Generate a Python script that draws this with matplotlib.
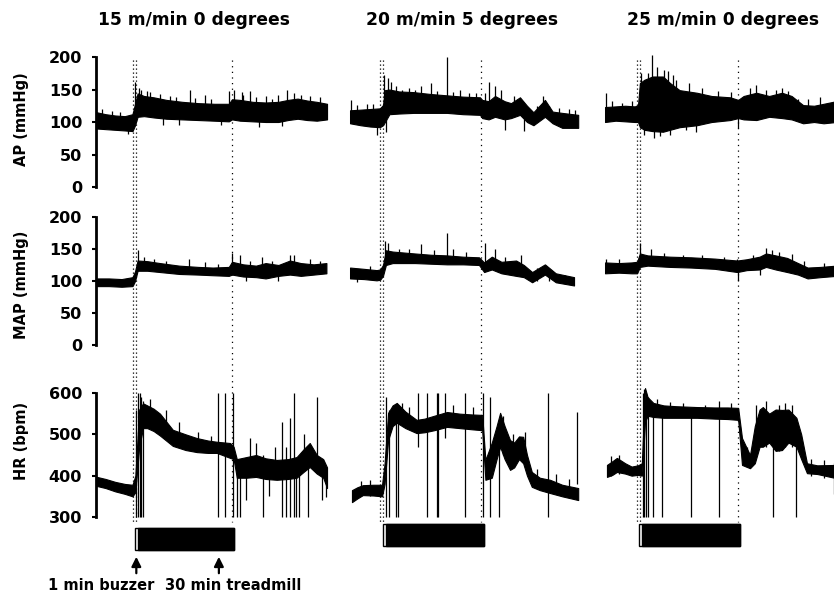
import matplotlib
matplotlib.use('Agg')
import matplotlib.pyplot as plt
from matplotlib.patches import Rectangle

# ---- data: time in min (0 = buzzer), envelope of each noisy trace + spikes ----
titles = ['15 m/min 0 degrees', '20 m/min 5 degrees', '25 m/min 0 degrees']
row_labels = ['AP (mmHg)', 'MAP (mmHg)', 'HR (bpm)']

# AP, 15 m/min
ap1_t = [-11.8, -9, -6, -3, -0.6, 0.2, 1, 3, 6, 10, 15, 20, 25, 29.5, 30.5, 33, 37, 41, 45, 48, 51, 54, 57, 60.2]
ap1_lo = [90, 89, 88, 87, 86, 95, 108, 109, 107, 105, 104, 103, 102, 101, 104, 102, 101, 100, 100, 103, 105, 103, 102, 104]
ap1_hi = [115, 112, 110, 109, 112, 128, 144, 140, 138, 134, 131, 129, 128, 128, 135, 134, 131, 130, 131, 134, 136, 133, 131, 128]
ap1_spk_t = [0.2, 2, 5, 17.4, 22, 29.6, 31, 33.5, 36, 41, 47.6, 50, 55, -2, 27,
             -10, -7, -4.5, 1.5, 4, 8, 11, 13, 19, 24, 34, 38, 43, 45, 52, 58, 9, 14, 39, 46]
ap1_spk_lo = [110, 120, 120, 115, 112, 112, 115, 115, 112, 110, 115, 115, 112, 82, 95,
              100, 98, 96, 120, 120, 118, 115, 115, 112, 112, 115, 112, 112, 112, 115, 112, 96, 95, 93, 94]
ap1_spk_hi = [162, 150, 146, 149, 142, 148, 150, 146, 147, 140, 150, 145, 140, 100, 110,
              120, 117, 116, 152, 147, 143, 140, 138, 137, 136, 142, 139, 136, 141, 142, 138, 110, 110, 108, 110]

# AP, 20 m/min
ap2_t = [-10.3, -7, -4, -1, 0, 0.6, 2, 5, 9.5, 15, 20, 25, 30.3, 31, 33, 35, 38, 40, 42.8, 45, 47, 50.6, 53, 56, 61]
ap2_lo = [98, 95, 93, 92, 95, 100, 112, 113, 114, 114, 114, 112, 111, 106, 104, 108, 104, 106, 111, 100, 95, 108, 98, 91, 91]
ap2_hi = [118, 119, 120, 121, 126, 149, 150, 147, 146, 143, 141, 139, 138, 134, 132, 140, 132, 129, 138, 125, 115, 134, 116, 114, 111]
ap2_spk_t = [-10, -5, 0.3, 1.5, 2.5, 6, 12, 15, 20, 24, 33, 35, 37, 50, -2, 1, 38, 44,
             -8, -3, 4, 8, 10, 17, 22, 27, 29, 32, 41, 48, 52, 55, 58, 60]
ap2_spk_lo = [110, 110, 120, 125, 125, 130, 130, 130, 125, 125, 115, 120, 115, 115, 80, 85, 88, 86,
              105, 105, 130, 130, 128, 128, 125, 125, 125, 118, 115, 105, 105, 100, 100, 100]
ap2_spk_hi = [134, 128, 172, 168, 162, 150, 155, 160, 200, 150, 162, 155, 150, 140, 100, 105, 105, 105,
              126, 128, 156, 152, 150, 148, 146, 145, 144, 145, 140, 124, 124, 122, 120, 118]

# AP, 25 m/min
ap3_t = [-10.3, -7, -4, -1, 0, 0.6, 2, 4.5, 7.8, 10, 13, 18.4, 23, 28.8, 31.3, 33, 37, 41, 45, 48, 51.6, 55, 58, 61.9]
ap3_lo = [100, 102, 101, 100, 100, 92, 88, 86, 85, 88, 92, 95, 100, 103, 106, 104, 103, 108, 106, 104, 98, 100, 98, 100]
ap3_hi = [123, 124, 125, 124, 126, 160, 165, 170, 170, 160, 149, 145, 140, 138, 134, 140, 145, 140, 145, 140, 126, 125, 128, 132]
ap3_spk_t = [-10, 0.8, 4.4, 6, 8, 9.5, 12, 37, 40, 45, 61.5, 2, 5, 31.3, 15,
             -8, -5, -2, 3, 11, 16, 20, 25, 29, 35, 43, 47, 50, 53, 57, 7, 10, 18]
ap3_spk_lo = [115, 140, 150, 150, 150, 150, 140, 130, 130, 130, 120, 80, 75, 91, 88,
              110, 110, 110, 140, 140, 130, 125, 120, 120, 125, 125, 120, 110, 110, 110, 78, 80, 85]
ap3_spk_hi = [145, 175, 203, 185, 180, 178, 165, 157, 150, 153, 140, 100, 100, 110, 105,
              132, 130, 133, 176, 172, 160, 152, 148, 146, 152, 150, 148, 136, 135, 138, 95, 95, 98]

# MAP
map1_t = [-11.7, -8, -4, -0.6, 0.2, 1, 4, 8, 14, 20, 24.5, 29.5, 30.5, 34, 38, 41, 45, 48.6, 52, 56, 60]
map1_lo = [92, 92, 91, 92, 100, 116, 116, 114, 111, 110, 109, 108, 110, 107, 106, 104, 108, 110, 108, 110, 112]
map1_hi = [104, 104, 103, 106, 115, 132, 131, 128, 124, 122, 121, 122, 130, 126, 124, 128, 125, 132, 128, 126, 128]
map1_spk_t = [1, 17, 22, 30.5, 33, 40, 48.6, 50, 55, 3, 6, 10, 26, 36, 43, 58, 35, 45]
map1_spk_lo = [120, 115, 112, 115, 112, 110, 115, 112, 112, 120, 118, 116, 112, 112, 112, 115, 100, 100]
map1_spk_hi = [148, 135, 130, 143, 140, 138, 141, 140, 135, 138, 135, 131, 127, 132, 131, 132, 110, 112]

map2_t = [-10.3, -6, -2, -0.9, 0, 0.9, 3, 10, 15, 20, 25, 30, 31.6, 34, 37, 41.6, 44, 46.6, 50.6, 54, 59.7]
map2_lo = [104, 103, 101, 102, 108, 125, 128, 128, 127, 126, 126, 125, 114, 118, 112, 108, 106, 98, 110, 98, 93]
map2_hi = [121, 119, 117, 118, 125, 148, 146, 143, 141, 140, 138, 137, 129, 138, 130, 132, 125, 114, 126, 112, 106]
map2_spk_t = [0.5, 1.5, 5, 12, 20, 22, 32, 35, 43, -8, 8, 16, 26, 38, 48, 52, 57, -4]
map2_spk_lo = [130, 130, 130, 130, 130, 130, 120, 120, 115, 98, 130, 130, 128, 115, 100, 100, 96, 105]
map2_spk_hi = [162, 160, 150, 158, 175, 150, 159, 150, 140, 110, 150, 148, 145, 138, 120, 118, 110, 124]

map3_t = [-10.3, -6, -2, -0.3, 0.6, 3, 10, 16.6, 24, 31, 34, 38, 40, 43, 46.6, 50, 53, 57, 61.9]
map3_lo = [112, 113, 112, 112, 122, 124, 122, 121, 119, 114, 117, 118, 122, 118, 114, 110, 104, 106, 108]
map3_hi = [129, 128, 129, 130, 143, 140, 138, 137, 135, 132, 134, 138, 143, 140, 136, 128, 121, 122, 124]
map3_spk_t = [-10, 0.6, 4, 14, 31, 36, 40, 42, 44, 31.4, -6, 8, 20, 27, 48, 52, 58, 38]
map3_spk_lo = [118, 130, 128, 128, 122, 125, 130, 128, 125, 100, 118, 128, 125, 122, 118, 112, 110, 110]
map3_spk_hi = [135, 160, 150, 140, 135, 140, 151, 148, 145, 115, 134, 143, 140, 138, 142, 132, 128, 120]

# HR
hr1_t = [-11.7, -9, -6, -3, -0.6, 0.3, 1.5, 2.7, 4, 6, 8, 12, 16, 19.5, 23, 25.8, 29.9, 31, 32, 35, 38, 41, 44.5, 48, 50.7, 53, 54.8, 57, 59, 60.2]
hr1_lo = [375, 370, 362, 356, 350, 360, 470, 515, 515, 508, 497, 472, 462, 457, 455, 455, 443, 440, 395, 395, 397, 392, 390, 392, 395, 410, 421, 405, 395, 370]
hr1_hi = [397, 392, 385, 380, 378, 400, 560, 575, 570, 562, 550, 511, 500, 491, 485, 482, 479, 470, 440, 445, 450, 442, 438, 440, 445, 465, 479, 450, 440, 420]
hr1_spk_t = [0.6, 1.0, 1.7, 2.2, 2.7, 26.2, 28.3, 30.9, 32, 33, 35, 40.2, 42, 46, 47.5, 48.6, 49.9, 50.5, 51.3, 54.3, 57, 58.5, 60,
             5, 10, 14, 20, 24, 36, 38, 44, 53]
hr1_spk_lo = [300, 300, 300, 300, 300, 300, 300, 300, 300, 300, 340, 300, 350, 300, 300, 300, 300, 300, 300, 300, 420, 340, 348,
              540, 490, 470, 460, 455, 420, 420, 415, 430]
hr1_spk_hi = [560, 600, 600, 590, 580, 600, 600, 600, 430, 420, 420, 450, 420, 530, 470, 540, 600, 440, 440, 430, 590, 420, 420,
              585, 560, 530, 505, 495, 490, 480, 470, 500]

hr2_t = [-9.7, -8, -6.3, -3, -0.3, 0.5, 1.6, 3, 4.3, 7, 10.5, 13, 16, 20, 24, 28, 31, 32, 34, 35.5, 36.6, 38, 39.7, 41, 42.5, 43.8, 45, 46.5, 49, 52.2, 56, 61]
hr2_lo = [336, 345, 353, 352, 350, 380, 486, 520, 528, 515, 503, 505, 510, 518, 515, 512, 510, 390, 395, 440, 470, 440, 414, 420, 440, 430, 400, 373, 365, 358, 350, 341]
hr2_hi = [365, 372, 377, 378, 378, 430, 552, 570, 576, 555, 535, 538, 545, 554, 550, 548, 547, 438, 480, 520, 552, 520, 486, 480, 495, 494, 450, 409, 395, 390, 378, 370]
hr2_spk_t = [0.8, 1.8, 4.0, 4.6, 10.9, 13.7, 16.9, 17.3, 19.5, 25.6, 31.3, 33.5, 36.3, 51.6, 60.6,
             -7, -4, 6, 8, 22, 28, 37.5, 40.5, 44.5, 48, 54, 58]
hr2_spk_lo = [300, 300, 300, 300, 470, 300, 300, 300, 490, 300, 300, 300, 300, 300, 380,
              350, 350, 530, 520, 540, 530, 450, 420, 430, 370, 360, 350]
hr2_spk_hi = [590, 560, 540, 540, 600, 600, 600, 600, 600, 600, 600, 590, 500, 600, 555,
              388, 390, 575, 565, 570, 565, 545, 500, 505, 415, 405, 392]

hr3_t = [-9.7, -8, -6.6, -4, -2, 0, 1.2, 2.2, 3, 4.8, 8, 12, 18.4, 24, 28, 31.3, 32.5, 35, 36.5, 38, 39, 41, 43, 45, 47, 49.5, 51, 52.8, 56, 61.9]
hr3_lo = [397, 402, 409, 405, 400, 402, 400, 530, 545, 542, 540, 540, 540, 538, 537, 535, 426, 418, 430, 470, 470, 480, 460, 462, 480, 470, 440, 406, 404, 394]
hr3_hi = [426, 435, 443, 430, 422, 425, 430, 612, 590, 576, 570, 568, 566, 565, 565, 564, 491, 450, 520, 560, 566, 550, 560, 559, 560, 540, 500, 430, 425, 426]
hr3_spk_t = [1.5, 2.0, 2.5, 3.2, 4.7, 7.5, 16.6, 25.3, 42.2, 49.5, 61.2,
             -8.5, -6, 6, 10, 14, 21, 29, 34, 37, 40, 44, 46, 48, 54, 58]
hr3_spk_lo = [300, 300, 300, 300, 300, 300, 300, 300, 300, 300, 355,
              400, 405, 550, 550, 550, 545, 545, 420, 460, 470, 460, 470, 470, 400, 395]
hr3_spk_hi = [600, 610, 600, 590, 560, 560, 560, 580, 500, 530, 430,
              448, 450, 585, 578, 575, 572, 575, 470, 570, 580, 570, 575, 572, 440, 438]

# dotted event lines (buzzer on, treadmill on, treadmill off) and treadmill bars
event_t = [[-0.3, 0.6, 30.6], [-0.9, 0.0, 30.6], [-0.3, 0.6, 31.1]]
bar_start = [0.2, 0.0, 0.3]
bar_end = [31.1, 31.6, 31.9]
arrow_t = [0.6, 26.4]

traces = [
    [(ap1_t, ap1_lo, ap1_hi, ap1_spk_t, ap1_spk_lo, ap1_spk_hi),
     (ap2_t, ap2_lo, ap2_hi, ap2_spk_t, ap2_spk_lo, ap2_spk_hi),
     (ap3_t, ap3_lo, ap3_hi, ap3_spk_t, ap3_spk_lo, ap3_spk_hi)],
    [(map1_t, map1_lo, map1_hi, map1_spk_t, map1_spk_lo, map1_spk_hi),
     (map2_t, map2_lo, map2_hi, map2_spk_t, map2_spk_lo, map2_spk_hi),
     (map3_t, map3_lo, map3_hi, map3_spk_t, map3_spk_lo, map3_spk_hi)],
    [(hr1_t, hr1_lo, hr1_hi, hr1_spk_t, hr1_spk_lo, hr1_spk_hi),
     (hr2_t, hr2_lo, hr2_hi, hr2_spk_t, hr2_spk_lo, hr2_spk_hi),
     (hr3_t, hr3_lo, hr3_hi, hr3_spk_t, hr3_spk_lo, hr3_spk_hi)],
]

# ---- layout (pixels) ----
W, H = 834, 597
PX_PER_MIN = 3.2
T0, T1 = -12, 62
col_zero_px = [134.4, 383, 638]
rows_px = [(57, 187), (217, 345), (393, 517)]
row_ylim = [(0, 200), (0, 200), (300, 600)]
row_ticks = [[0, 50, 100, 150, 200], [0, 50, 100, 150, 200], [300, 400, 500, 600]]

fig = plt.figure(figsize=(W / 100, H / 100), dpi=100)
width = (T1 - T0) * PX_PER_MIN

for c in range(3):
    left = col_zero_px[c] + T0 * PX_PER_MIN
    # overlay axes (y in pixels from top) for dotted event lines, bars, arrows
    ov = fig.add_axes([left / W, 0, width / W, 1])
    ov.set_xlim(T0, T1)
    ov.set_ylim(H, 0)
    ov.axis('off')
    ov.vlines(event_t[c][:2], 60, 522, colors='k', linestyles=(0, (1, 2.2)), lw=0.9)
    ov.vlines(event_t[c][2:], 60, 522, colors='k', linestyles=(0, (1, 3.5)), lw=0.9)
    ytop = 528 if c == 0 else 524
    ov.add_patch(Rectangle((bar_start[c], ytop), bar_end[c] - bar_start[c], 22,
                           facecolor='white', edgecolor='k', lw=1.0))
    ov.add_patch(Rectangle((bar_start[c] + 0.9, ytop), bar_end[c] - bar_start[c] - 0.9, 22,
                           facecolor='k', edgecolor='k', lw=1.0))
    if c == 0:
        for tx in arrow_t:
            ov.annotate('', xy=(tx, 554), xytext=(tx, 576),
                        arrowprops=dict(arrowstyle='-|>', color='k', lw=1.6, mutation_scale=14))
        ov.text(-10.3, 585, '1 min buzzer', ha='center', va='center',
                fontsize=10.5, fontweight='bold')
        ov.text(30.8, 585, '30 min treadmill', ha='center', va='center',
                fontsize=10.5, fontweight='bold')

    for r in range(3):
        top, bot = rows_px[r]
        ax = fig.add_axes([left / W, 1 - bot / H, width / W, (bot - top) / H])
        ax.patch.set_alpha(0)
        ax.set_xlim(T0, T1)
        ax.set_ylim(*row_ylim[r])
        t, lo, hi, st, slo, shi = traces[r][c]
        ax.fill_between(t, lo, hi, color='k', lw=0.8, clip_on=False)
        ax.vlines(st, slo, shi, colors='k', lw=0.9, clip_on=False)
        for s in ['top', 'right', 'bottom']:
            ax.spines[s].set_visible(False)
        ax.set_xticks([])
        if c == 0:
            ax.spines['left'].set_linewidth(2.0)
            ax.set_yticks(row_ticks[r])
            ax.tick_params(axis='y', length=3, width=1.5, pad=7)
            for lab in ax.get_yticklabels():
                lab.set_fontweight('bold')
                lab.set_fontsize(11.5)
        else:
            ax.spines['left'].set_visible(False)
            ax.set_yticks([])

for c, title in enumerate(titles):
    cx = [194, 462, 723][c]
    fig.text(cx / W, 1 - 20 / H, title, ha='center', va='center',
             fontsize=12.3, fontweight='bold')

for r, lab in enumerate(row_labels):
    cy = [119, 285, 441][r]
    fig.text(22 / W, 1 - cy / H, lab, ha='center', va='center', rotation=90,
             fontsize=10.5, fontweight='bold')

fig.savefig('out.png', dpi=100)
